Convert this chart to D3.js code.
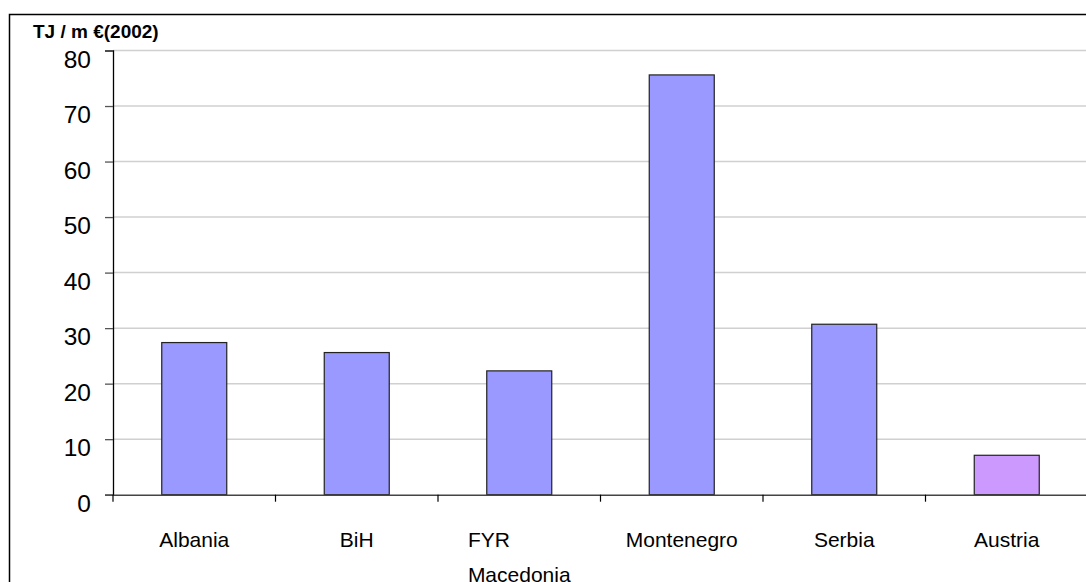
<!DOCTYPE html>
<html>
<head>
<meta charset="utf-8">
<script src="https://cdn.jsdelivr.net/npm/d3@7"></script>
<style>
  html, body { margin: 0; padding: 0; background: #fff; }
  svg { display: block; font-family: "Liberation Sans", Arial, sans-serif; }
</style>
</head>
<body>
<svg id="chart" width="1086" height="582"></svg>
<script>
const categories = ["Albania", "BiH", "FYR Macedonia", "Montenegro", "Serbia", "Austria"];
const labelLines = [["Albania"], ["BiH"], ["FYR", "Macedonia"], ["Montenegro"], ["Serbia"], ["Austria"]];
const values = [27.4, 25.6, 22.3, 75.6, 30.7, 7.1];
const colors = ["#9999ff", "#9999ff", "#9999ff", "#9999ff", "#9999ff", "#cc99ff"];
const yTicks = [0, 10, 20, 30, 40, 50, 60, 70, 80];
const yTitle = "TJ / m €(2002)";

(function () {
const svg = d3.select("#chart");
const plotLeft = 113, plotRight = 1088, plotTop = 50.5, plotBottom = 494.7;

// outer frame
svg.append("rect")
  .attr("x", 9.5).attr("y", 14.5)
  .attr("width", 1200).attr("height", 700)
  .attr("fill", "none").attr("stroke", "#000").attr("stroke-width", 1.5);

const x = d3.scaleBand().domain(categories).range([plotLeft, plotRight]).paddingInner(0).paddingOuter(0);
const y = d3.scaleLinear().domain([0, 80]).range([plotBottom, plotTop]);

// gridlines
svg.append("g").selectAll("line")
  .data(yTicks.filter(d => d > 0))
  .join("line")
  .attr("x1", plotLeft).attr("x2", 1086)
  .attr("y1", d => y(d)).attr("y2", d => y(d))
  .attr("stroke", "#d0d0d0").attr("stroke-width", 1.5);

// bars
const bw = x.bandwidth() * 0.4;
svg.append("g").selectAll("rect")
  .data(categories)
  .join("rect")
  .attr("x", d => x(d) + x.bandwidth() / 2 - bw / 2)
  .attr("width", bw)
  .attr("y", (d, i) => y(values[i]))
  .attr("height", (d, i) => y(0) - y(values[i]))
  .attr("fill", (d, i) => colors[i])
  .attr("stroke", "#222").attr("stroke-width", 1.2);

// y axis
const yAxis = d3.axisLeft(y).tickValues(yTicks).tickSize(8).tickPadding(14).tickFormat(d3.format("d"));
const gy = svg.append("g").attr("transform", `translate(${plotLeft},0)`).call(yAxis);
gy.select(".domain").attr("stroke", "#000").attr("stroke-width", 1.3);
gy.selectAll(".tick line").attr("stroke", "#555").attr("stroke-width", 1.3);
gy.selectAll(".tick text")
  .attr("font-size", 24.5).attr("fill", "#000")
  .attr("font-family", "Liberation Sans, Arial, sans-serif")
  .attr("dy", "0.68em");

// x axis
const xAxis = d3.axisBottom(x).tickSize(0).tickFormat("");
const gx = svg.append("g").attr("transform", `translate(0,${plotBottom})`).call(xAxis);
gx.select(".domain").attr("stroke", "#444").attr("stroke-width", 1.5);
// category boundary ticks
svg.append("g").selectAll("line")
  .data(categories)
  .join("line")
  .attr("x1", d => x(d)).attr("x2", d => x(d))
  .attr("y1", plotBottom).attr("y2", plotBottom + 7)
  .attr("stroke", "#000").attr("stroke-width", 1.2);

// category labels
const lg = svg.append("g");
labelLines.forEach((lines, i) => {
  const cx = x(categories[i]) + x.bandwidth() / 2;
  const t = lg.append("text")
    .attr("font-size", 21).attr("fill", "#000");
  lines.forEach((ln, j) => {
    t.append("tspan").attr("x", cx).attr("y", 547 + j * 35).text(ln);
  });
  if (lines.length > 1) {
    const w = d3.max(t.selectAll("tspan").nodes(), n => n.getComputedTextLength());
    t.selectAll("tspan").attr("x", cx - w / 2).attr("text-anchor", "start");
  } else {
    t.attr("text-anchor", "middle");
  }
});

// y unit title
svg.append("text")
  .attr("x", 33).attr("y", 38)
  .attr("font-size", 19).attr("font-weight", "bold")
  .attr("fill", "#000")
  .text(yTitle);
})();
</script>
</body>
</html>
